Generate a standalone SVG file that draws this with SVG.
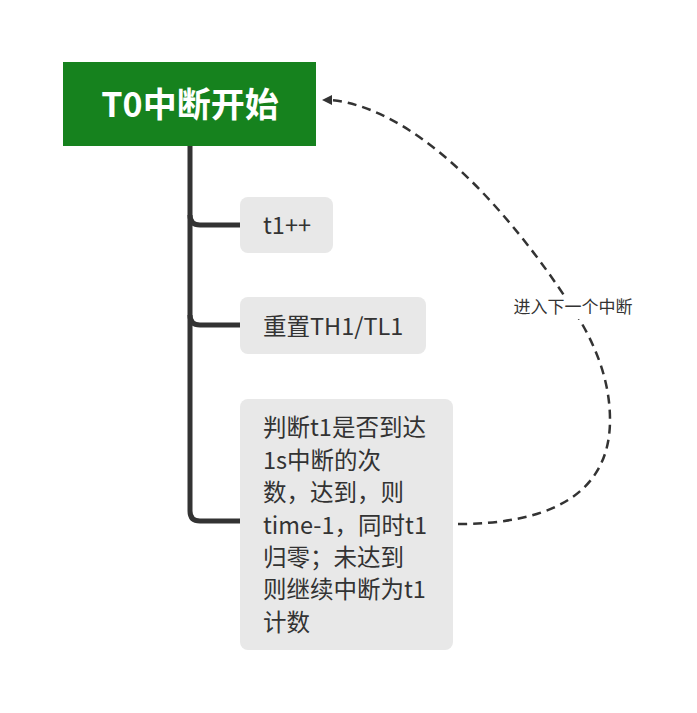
<svg xmlns="http://www.w3.org/2000/svg" width="697" height="713" viewBox="0 0 697 713">
<defs>
<style>
.trunk{fill:none;stroke:#333333;stroke-width:5;stroke-linecap:butt}
.box{fill:#e8e8e8}
.t{font-family:"Noto Sans CJK SC","Noto Sans",sans-serif;font-size:23.5px;fill:#333333}
.title{font-family:"Noto Sans CJK SC","Noto Sans",sans-serif;font-size:34px;font-weight:bold;fill:#ffffff}
.lbl{font-family:"Noto Sans CJK SC","Noto Sans",sans-serif;font-size:17px;fill:#333333}
.dash{fill:none;stroke:#333333;stroke-width:2.5;stroke-dasharray:9,6}
</style>
</defs>
<rect width="697" height="713" fill="#ffffff"/>
<g id="connectors">
<path class="trunk" d="M190,146 V511 Q190,521 200,521 H240"/>
<path class="trunk" d="M190,215 Q190,225 200,225 H240"/>
<path class="trunk" d="M190,315 Q190,325 200,325 H240"/>
<path class="dash" d="M458,524 C540,524 610,500 610,420 C610,380 595,345 578,317 C530,240 430,110 331,100" />
<path d="M332,95 L322,100 L332,105 Z" fill="#333333"/>
<rect x="510" y="295" width="126" height="24" fill="#ffffff"/>
<text class="lbl" x="573" y="313" text-anchor="middle">进入下一个中断</text>
</g>
<g id="root">
<rect x="63" y="62" width="253" height="84" fill="#16821e"/>
<text class="title" x="190" y="117" text-anchor="middle">T0中断开始</text>
</g>
<g id="node1">
<rect class="box" x="240" y="197" width="93" height="56" rx="8"/>
<text class="t" x="263" y="234">t1++</text>
</g>
<g id="node2">
<rect class="box" x="240" y="297" width="186" height="57" rx="8"/>
<text class="t" x="263" y="335">重置TH1/TL1</text>
</g>
<g id="node3">
<rect class="box" x="240" y="399" width="213" height="251" rx="8"/>
<text class="t" x="263" y="436">判断t1是否到达</text>
<text class="t" x="263" y="469">1s中断的次</text>
<text class="t" x="263" y="501">数，达到，则</text>
<text class="t" x="263" y="534">time-1，同时t1</text>
<text class="t" x="263" y="566">归零；未达到</text>
<text class="t" x="263" y="598">则继续中断为t1</text>
<text class="t" x="263" y="631">计数</text>
</g>
</svg>
